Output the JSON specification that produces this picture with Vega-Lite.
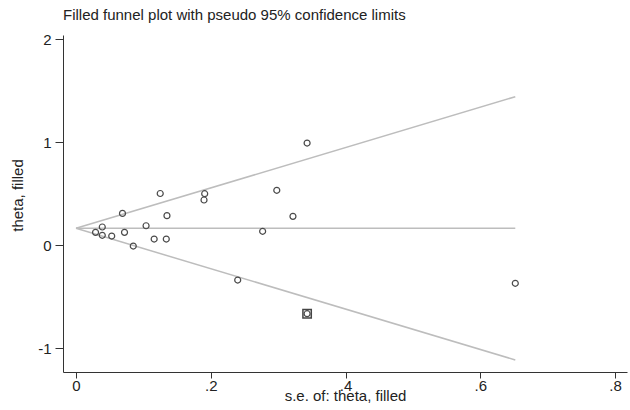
{
  "$schema": "https://vega.github.io/schema/vega-lite/v6.json",
  "width": 564,
  "height": 337,
  "autosize": {"type": "none"},
  "padding": {"left": 63, "top": 35, "right": 3, "bottom": 38},
  "background": "white",
  "config": {"view": {"stroke": null}, "font": "Liberation Sans"},
  "title": {
    "text": "Filled funnel plot with pseudo 95% confidence limits",
    "anchor": "start",
    "frame": "group",
    "fontSize": 15,
    "fontWeight": "normal",
    "color": "#222222",
    "baseline": "alphabetic",
    "offset": 10,
    "dy": 13
  },
  "datasets": {
    "funnel": [
      {"se": 0, "theta": 0.162, "bound": "upper"},
      {"se": 0.652, "theta": 1.440, "bound": "upper"},
      {"se": 0, "theta": 0.162, "bound": "middle"},
      {"se": 0.652, "theta": 0.162, "bound": "middle"},
      {"se": 0, "theta": 0.162, "bound": "lower"},
      {"se": 0.652, "theta": -1.116, "bound": "lower"}
    ],
    "studies": [
      {"se": 0.029, "theta": 0.123, "type": "observed"},
      {"se": 0.039, "theta": 0.175, "type": "observed"},
      {"se": 0.039, "theta": 0.094, "type": "observed"},
      {"se": 0.053, "theta": 0.087, "type": "observed"},
      {"se": 0.069, "theta": 0.307, "type": "observed"},
      {"se": 0.072, "theta": 0.123, "type": "observed"},
      {"se": 0.085, "theta": -0.010, "type": "observed"},
      {"se": 0.104, "theta": 0.187, "type": "observed"},
      {"se": 0.116, "theta": 0.058, "type": "observed"},
      {"se": 0.125, "theta": 0.500, "type": "observed"},
      {"se": 0.134, "theta": 0.058, "type": "observed"},
      {"se": 0.135, "theta": 0.285, "type": "observed"},
      {"se": 0.190, "theta": 0.437, "type": "observed"},
      {"se": 0.191, "theta": 0.498, "type": "observed"},
      {"se": 0.240, "theta": -0.340, "type": "observed"},
      {"se": 0.277, "theta": 0.133, "type": "observed"},
      {"se": 0.298, "theta": 0.531, "type": "observed"},
      {"se": 0.322, "theta": 0.278, "type": "observed"},
      {"se": 0.343, "theta": 0.990, "type": "observed"},
      {"se": 0.343, "theta": -0.667, "type": "filled"},
      {"se": 0.652, "theta": -0.372, "type": "observed"}
    ]
  },
  "layer": [
    {
      "data": {"name": "funnel"},
      "mark": {"type": "line", "color": "#bdbdbd", "strokeWidth": 1.5},
      "encoding": {
        "x": {
          "field": "se", "type": "quantitative",
          "scale": {"domain": [-0.0193, 0.8178], "nice": false, "zero": false},
          "axis": {
            "values": [0, 0.2, 0.4, 0.6, 0.8],
            "labelExpr": "datum.value == 0 ? '0' : '.' + format(datum.value * 10, '.0f')",
            "grid": false,
            "tickSize": 6,
            "labelPadding": 0,
            "labelFontSize": 15,
            "labelColor": "#222222",
            "domainColor": "#333333",
            "tickColor": "#333333",
            "labelFlush": false,
            "title": "s.e. of: theta, filled",
            "titleFontSize": 15,
            "titleFontWeight": "normal",
            "titleColor": "#222222",
            "titleBaseline": "alphabetic",
            "titleY": 28
          }
        },
        "y": {
          "field": "theta", "type": "quantitative",
          "scale": {"domain": [-1.233, 2.039], "nice": false, "zero": false},
          "axis": {
            "values": [-1, 0, 1, 2],
            "labelExpr": "datum.value < 0 ? '-' + format(abs(datum.value), 'd') : format(datum.value, 'd')",
            "grid": false,
            "tickSize": 8,
            "labelPadding": 4,
            "labelFontSize": 15,
            "labelColor": "#222222",
            "domainColor": "#333333",
            "tickColor": "#333333",
            "labelFlush": false,
            "title": "theta, filled",
            "titleFontSize": 15,
            "titleFontWeight": "normal",
            "titleColor": "#222222",
            "titleAngle": 270,
            "titleBaseline": "alphabetic",
            "titleX": -41,
            "titleY": 160
          }
        },
        "detail": {"field": "bound"}
      }
    },
    {
      "data": {"name": "studies"},
      "mark": {"type": "point", "shape": "circle", "filled": false, "size": 36, "stroke": "#4a4a4a", "strokeWidth": 1.2, "opacity": 1},
      "encoding": {
        "x": {"field": "se", "type": "quantitative"},
        "y": {"field": "theta", "type": "quantitative"}
      }
    },
    {
      "data": {"name": "studies"},
      "transform": [{"filter": "datum.type == 'filled'"}],
      "mark": {"type": "point", "shape": "square", "filled": false, "size": 70, "stroke": "#444444", "strokeWidth": 1.5, "opacity": 1},
      "encoding": {
        "x": {"field": "se", "type": "quantitative"},
        "y": {"field": "theta", "type": "quantitative"}
      }
    }
  ]
}
